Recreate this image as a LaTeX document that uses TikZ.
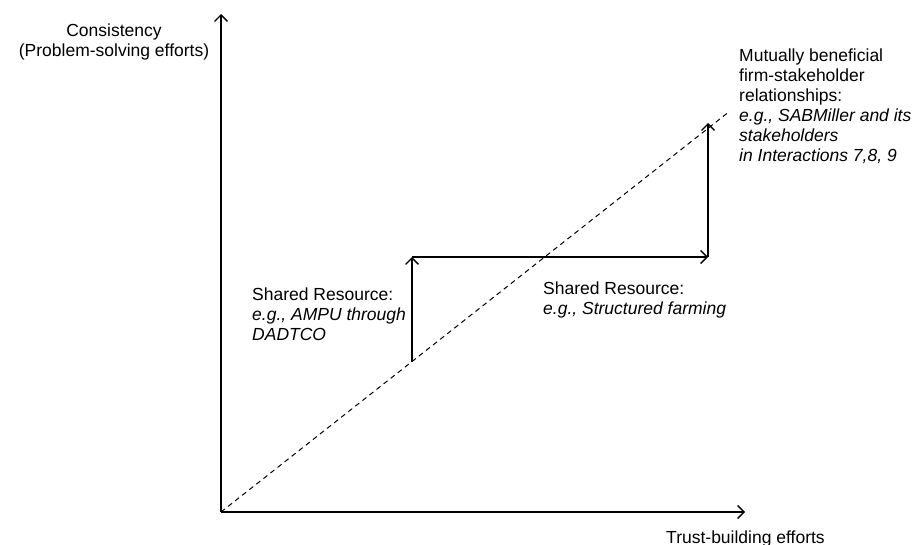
\documentclass[tikz,border=0pt]{standalone}
\usepackage{fontspec}
\setmainfont{Liberation Sans}
\usetikzlibrary{arrows.meta}
\begin{document}
\begin{tikzpicture}[x=1pt,y=-1pt,
  arr/.style={line width=1.3pt, -{Straight Barb[length=6.5pt,width=13pt,line width=1.3pt]}},
  dline/.style={line width=1pt, dash pattern=on 5pt off 4pt},
  lbl/.style={inner sep=0pt, font=\fontsize{17.5}{20}\selectfont, align=left},
]
\useasboundingbox (0,0) rectangle (920,544);
\coordinate (O) at (221,512);
\coordinate (Ytop) at (221,14);
\coordinate (Xend) at (745,512);
\coordinate (Dend) at (730,111);
\coordinate (A1b) at (412,362);
\coordinate (A1t) at (412,257);
\coordinate (A2e) at (708,257);
\coordinate (A3t) at (708,123);
% axes
\draw[arr] (O) -- (Ytop);
\draw[arr] (O) -- (Xend);
% dashed diagonal
\draw[dline] (O) -- (Dend);
% steps
\draw[arr] (A1b) -- (A1t);
\draw[arr] (A1t) -- (A2e);
\draw[arr] (A2e) -- (A3t);
% labels
\node[lbl, align=center, anchor=north] (ylab) at (114,24) {Consistency\\(Problem-solving efforts)};
\node[lbl, anchor=base west] (xlab) at (666,543) {Trust-building efforts};
\node[lbl, anchor=north west] (sr1) at (252,288) {Shared Resource:\\\textit{e.g., AMPU through}\\\textit{DADTCO}};
\node[lbl, anchor=north west] (sr2) at (543,282) {Shared Resource:\\\textit{e.g., Structured farming}};
\node[lbl, anchor=north west] (mb) at (739,49) {Mutually beneficial\\firm-stakeholder\\relationships:\\\textit{e.g., SABMiller and its}\\\textit{stakeholders}\\\textit{in Interactions 7,8, 9}};
\end{tikzpicture}
\end{document}
